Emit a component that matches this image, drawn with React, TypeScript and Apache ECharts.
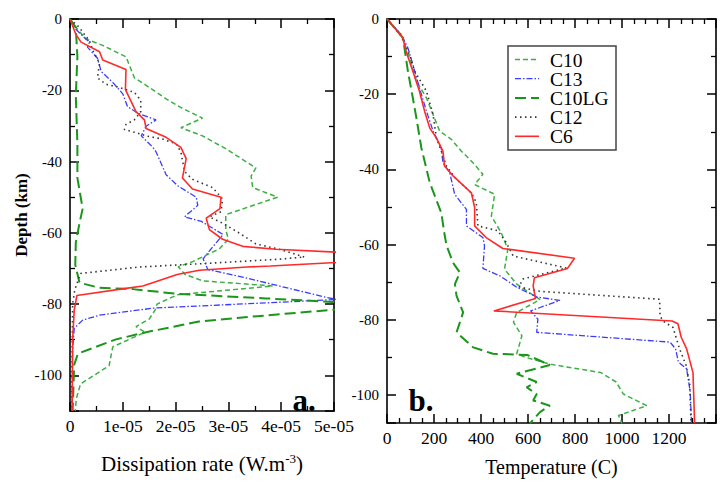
import React, { useEffect, useRef } from 'react';
import * as echarts from 'echarts';

// ---------- data ----------
const seriesNames = ['C10', 'C13', 'C10LG', 'C12', 'C6'];

// panel a: [dissipation rate (W.m^-3), depth (km)]
const dissC10: [number, number][] = [
  [0, 0], [0.15e-5, -3], [0.3e-5, -5.6], [0.62e-5, -7.4], [1.06e-5, -10.6], [1.22e-5, -16.5], [1.41e-5, -18.3],
  [1.82e-5, -22.4], [2.13e-5, -25.1], [2.51e-5, -27.8], [2.1e-5, -30.5], [2.51e-5, -32.8], [2.95e-5, -36.4],
  [3.52e-5, -41.8], [3.43e-5, -44.1], [3.46e-5, -47.3], [3.93e-5, -50], [2.95e-5, -54.9], [2.95e-5, -59.1],
  [3.0e-5, -61.8], [2.83e-5, -64.5], [2.32e-5, -68.1], [2.05e-5, -69.5], [2.18e-5, -71.7], [2.52e-5, -73.5],
  [3.84e-5, -74.9], [2.03e-5, -77.4], [1.65e-5, -80], [1.61e-5, -81.7], [1.5e-5, -84.2], [1.25e-5, -86.3],
  [1.42e-5, -87.9], [0.81e-5, -92], [0.74e-5, -97.3], [0.2e-5, -102.4], [0.12e-5, -106.5], [0.1e-5, -110],
];
const dissC13: [number, number][] = [
  [0, 0], [0.08e-5, -2.4], [0.27e-5, -5.2], [0.37e-5, -6.5], [0.33e-5, -7.9], [0.52e-5, -11], [0.59e-5, -14.7],
  [0.81e-5, -17.8], [1.0e-5, -21], [1.09e-5, -24.6], [1.28e-5, -26.4], [1.63e-5, -28.3], [1.44e-5, -30.1],
  [1.35e-5, -32.8], [1.57e-5, -36], [1.63e-5, -37.3], [1.82e-5, -43.7], [2.04e-5, -46.8], [2.39e-5, -50],
  [2.42e-5, -52.3], [2.17e-5, -55.5], [2.49e-5, -56.8], [2.9e-5, -60.5], [2.7e-5, -64], [2.52e-5, -67.3],
  [2.61e-5, -70.3], [3.35e-5, -72.7], [4.79e-5, -77.9], [5.05e-5, -78.7], [3.8e-5, -79.6], [1.6e-5, -81.1],
  [0.56e-5, -83.1], [0.24e-5, -84.5], [0.08e-5, -86.8], [0.05e-5, -93], [0.04e-5, -110],
];
const dissC10LG: [number, number][] = [
  [0, 0], [0.11e-5, -2.4], [0.14e-5, -10.6], [0.11e-5, -21.5], [0.14e-5, -35], [0.14e-5, -44.6], [0.24e-5, -53.2],
  [0.18e-5, -57.3], [0.11e-5, -62.7], [0.1e-5, -69], [0.18e-5, -74], [0.55e-5, -75.4], [1.19e-5, -75.8],
  [2.01e-5, -77.1], [3.71e-5, -78.4], [4.98e-5, -79.4], [6.5e-5, -80.5], [4.98e-5, -81.6], [3.46e-5, -83.5],
  [2.44e-5, -84.9], [1.44e-5, -87.9], [0.87e-5, -89.9], [0.15e-5, -93.9], [0.08e-5, -97], [0.05e-5, -110],
];
const dissC12: [number, number][] = [
  [0, 0], [0.18e-5, -2.4], [0.27e-5, -4.3], [0.37e-5, -6.1], [0.43e-5, -8.8], [0.56e-5, -12.4], [0.52e-5, -16.5],
  [0.68e-5, -18.3], [0.93e-5, -19.2], [1.22e-5, -20.6], [1.34e-5, -22.8], [1.34e-5, -26], [1.22e-5, -28.3],
  [1.06e-5, -29.6], [1.03e-5, -31], [1.25e-5, -31.9], [1.44e-5, -32.8], [1.75e-5, -33.7], [2.01e-5, -35],
  [2.1e-5, -37.3], [2.17e-5, -42.8], [2.32e-5, -45], [2.7e-5, -47.3], [2.89e-5, -50.5], [2.86e-5, -54.1],
  [2.64e-5, -55.5], [2.89e-5, -57.3], [3.21e-5, -60.1], [3.52e-5, -63.1], [3.96e-5, -64.6], [4.44e-5, -66.8],
  [3.96e-5, -67.4], [2.45e-5, -68.7], [1.31e-5, -69.6], [0.2e-5, -71.4], [0.09e-5, -76], [0.05e-5, -80], [0.03e-5, -110],
];
const dissC6: [number, number][] = [
  [0, 0], [0.11e-5, -4.3], [0.21e-5, -6.5], [0.56e-5, -9.2], [0.62e-5, -11.5], [1.06e-5, -14.2], [1.05e-5, -19.8],
  [1.25e-5, -26], [1.41e-5, -28.3], [1.44e-5, -30.7], [1.82e-5, -33.2], [2.1e-5, -36], [2.2e-5, -39.2],
  [2.13e-5, -44.6], [2.32e-5, -47.7], [2.86e-5, -50], [2.84e-5, -53.2], [2.58e-5, -55.9], [2.64e-5, -59.1],
  [2.89e-5, -61.8], [3.27e-5, -63.8], [3.9e-5, -64.6], [7.0e-5, -66.8], [3.8e-5, -69.3], [3.35e-5, -69.6],
  [2.45e-5, -70.5], [2.03e-5, -71.7], [1.38e-5, -74.9], [1.06e-5, -75.6], [0.13e-5, -77.6], [0.08e-5, -81.7],
  [0.05e-5, -90], [0.04e-5, -110],
];

// panel b: [temperature (C), depth (km)]
const tempC10: [number, number][] = [
  [0, 0], [61, -4.2], [96, -10.4], [125, -16.5], [168, -21], [224, -29.8], [274, -32], [316, -35.1], [366, -38.2],
  [408, -41.3], [373, -44], [458, -46.6], [444, -52.4], [486, -56.8], [514, -61.2], [500, -66.5], [552, -70.5],
  [651, -74.6], [552, -78], [538, -80.6], [574, -84.2], [552, -89], [587, -89.9], [697, -91.8], [910, -94],
  [975, -96.5], [1006, -99.7], [1105, -102.8], [985, -105.4], [1000, -107.5],
];
const tempC13: [number, number][] = [
  [0, 0], [61, -4.2], [89, -7.7], [110, -12.1], [138, -18.3], [168, -24.5], [196, -29.8], [231, -34.4], [238, -38.2],
  [267, -40.9], [288, -46.6], [338, -50.6], [338, -55], [408, -58.1], [415, -60.3], [408, -66.3], [481, -68.3],
  [552, -71.3], [638, -73.9], [736, -74.8], [611, -77.6], [642, -79.8], [637, -83.3], [1205, -85.9], [1228, -87.7],
  [1240, -91.2], [1275, -93], [1290, -99], [1296, -107.5],
];
const tempC10LG: [number, number][] = [
  [0, 0], [68, -5], [89, -13.9], [110, -21], [125, -26.3], [146, -34.2], [182, -43.5], [231, -51.5], [246, -57.7],
  [254, -60.3], [281, -64.8], [310, -67.4], [289, -70.5], [296, -73.6], [324, -78], [296, -83.3], [367, -87.3],
  [451, -89], [596, -89.3], [693, -92], [552, -94.3], [637, -96.5], [594, -97.9], [637, -99.7], [622, -101.4],
  [693, -102.8], [651, -104.5], [608, -107.5],
];
const tempC12: [number, number][] = [
  [0, 0], [61, -4.6], [96, -9.5], [118, -13.9], [168, -19.2], [196, -25.4], [210, -31.6], [231, -35.1], [253, -39.1],
  [295, -42.6], [359, -46.2], [380, -48.8], [387, -55], [472, -56.3], [507, -59.4], [537, -63], [763, -66.2],
  [579, -69.1], [561, -71.2], [650, -72.4], [1160, -74.5], [1162, -79], [1177, -80.4], [1217, -82], [1245, -87.7],
  [1273, -92.1], [1288, -97], [1294, -107.5],
];
const tempC6: [number, number][] = [
  [0, 0], [67, -5], [81, -8.6], [110, -13.9], [138, -19.2], [160, -24.5], [182, -29], [210, -31.6], [238, -35.1],
  [245, -39.1], [281, -41.7], [359, -46.2], [373, -50.1], [373, -55], [422, -58.1], [493, -61], [798, -63.6],
  [768, -66.3], [627, -68.8], [622, -71], [632, -74.3], [455, -77.6], [1213, -80.3], [1238, -81], [1252, -84.6],
  [1275, -87.7], [1302, -94], [1309, -107.5],
];

const dissTickLabels = ['0', '1e-05', '2e-05', '3e-05', '4e-05', '5e-05'];

// ---------- styles ----------
const FONT = "'Liberation Serif', 'Times New Roman', serif";
const colors = ['#3cb043', '#3b3bff', '#1a961a', '#333333', '#ff2a2a'];
const dashes: (number[] | 'solid')[] = [[5, 3], [6, 2, 1.5, 2], [11, 5], [1.5, 3.5], 'solid'];
const widths = [1.5, 1.3, 2, 1.6, 1.6];

const axisLine = { show: true, onZero: false, lineStyle: { color: '#000', width: 1.6 } };
const tick = { show: true, inside: true, length: 9, lineStyle: { color: '#000', width: 1.5 } };

function mkX(grid: number, pos: 'top' | 'bottom', kind: 'diss' | 'temp') {
  const isDiss = kind === 'diss';
  const base: any = {
    gridIndex: grid,
    type: 'value',
    position: pos,
    min: 0,
    max: isDiss ? 5e-5 : 1400,
    interval: isDiss ? 1e-5 : 200,
    axisLine,
    axisTick: tick,
    minorTick: { show: true, splitNumber: isDiss ? 2 : 4, length: 5, lineStyle: { color: '#000', width: 1.3 } },
    splitLine: { show: false },
    minorSplitLine: { show: false },
    axisLabel: { show: false },
  };
  if (pos === 'bottom') {
    base.axisLabel = {
      show: true,
      color: '#000',
      fontFamily: FONT,
      fontSize: 17.5,
      margin: 6,
      showMaxLabel: isDiss,
      formatter: isDiss
        ? (v: number) => dissTickLabels[Math.round(v * 1e5)] ?? ''
        : (v: number) => String(v),
    };
    base.nameLocation = 'middle';
    if (isDiss) {
      base.name = '{a|Dissipation rate (W.m}{s|-3}{a|)}';
      base.nameGap = 41;
      base.nameTextStyle = {
        rich: {
          a: { fontFamily: FONT, fontSize: 21, color: '#000', verticalAlign: 'bottom', lineHeight: 22 },
          s: { fontFamily: FONT, fontSize: 13, color: '#000', verticalAlign: 'top', lineHeight: 22, padding: [0, 0, 12, 0] },
        },
      };
    } else {
      base.name = 'Temperature (C)';
      base.nameGap = 34;
      base.nameTextStyle = { fontFamily: FONT, fontSize: 20, color: '#000' };
    }
  }
  return base;
}

function mkY(grid: number, pos: 'left' | 'right', min: number) {
  const base: any = {
    gridIndex: grid,
    type: 'value',
    position: pos,
    min,
    max: 0,
    splitNumber: 5,
    axisLine,
    axisTick: tick,
    minorTick: { show: true, splitNumber: 2, length: 5, lineStyle: { color: '#000', width: 1.3 } },
    splitLine: { show: false },
    minorSplitLine: { show: false },
    axisLabel: { show: false },
  };
  if (pos === 'left') {
    base.axisLabel = {
      show: true,
      color: '#000',
      fontFamily: FONT,
      fontSize: 15,
      margin: 8,
      showMinLabel: false,
    };
    if (grid === 0) {
      base.name = 'Depth (km)';
      base.nameLocation = 'middle';
      base.nameGap = 40;
      base.nameTextStyle = { fontFamily: FONT, fontSize: 17, fontWeight: 'bold', color: '#000' };
    }
  }
  return base;
}

export default function App() {
  const ref = useRef<HTMLDivElement>(null);
  useEffect(() => {
    if (!ref.current) return;
    const chart = echarts.init(ref.current, undefined, { renderer: 'svg' });
    const dissData = [dissC10, dissC13, dissC10LG, dissC12, dissC6];
    const tempData = [tempC10, tempC13, tempC10LG, tempC12, tempC6];
    const series: any[] = [];
    seriesNames.forEach((n, i) => {
      const ls = { color: colors[i], width: widths[i], type: dashes[i] };
      series.push({
        name: n, type: 'line', xAxisIndex: 0, yAxisIndex: 0, data: dissData[i],
        showSymbol: false, symbol: 'none', clip: true, lineStyle: ls, z: 2 + i,
      });
      series.push({
        name: n, type: 'line', xAxisIndex: 2, yAxisIndex: 2, data: tempData[i],
        showSymbol: false, symbol: 'none', clip: true, lineStyle: ls, z: 2 + i,
      });
    });

    const legendChildren: any[] = [
      {
        type: 'rect',
        shape: { x: 508, y: 46, width: 108, height: 104 },
        style: { fill: '#fff', stroke: '#444', lineWidth: 1.5 },
      },
    ];
    seriesNames.forEach((n, i) => {
      const y = 59.5 + i * 19.2;
      legendChildren.push({
        type: 'line',
        shape: { x1: 515, y1: y, x2: 539, y2: y },
        style: {
          stroke: colors[i],
          lineWidth: widths[i],
          lineDash: dashes[i] === 'solid' ? null : dashes[i],
        },
      });
      legendChildren.push({
        type: 'text',
        x: 550,
        y: y + 0.5,
        style: { text: n, fontFamily: FONT, fontSize: 19.5, fill: '#000', verticalAlign: 'middle', align: 'left' },
      });
    });

    chart.setOption({
      animation: false,
      backgroundColor: '#fff',
      grid: [
        { left: 70, top: 19, width: 264, height: 405, containLabel: false },
        { left: 387, top: 19, width: 329, height: 405, containLabel: false },
      ],
      xAxis: [mkX(0, 'bottom', 'diss'), mkX(0, 'top', 'diss'), mkX(1, 'bottom', 'temp'), mkX(1, 'top', 'temp')],
      yAxis: [mkY(0, 'left', -110), mkY(0, 'right', -110), mkY(1, 'left', -107.4), mkY(1, 'right', -107.4)],
      series,
      graphic: [
        { type: 'group', z: 50, children: legendChildren },
        {
          type: 'text', x: 304, y: 400, z: 50,
          style: { text: 'a.', fontFamily: FONT, fontSize: 31, fontWeight: 'bold', fill: '#000', align: 'center', verticalAlign: 'middle' },
        },
        {
          type: 'text', x: 421, y: 400, z: 50,
          style: { text: 'b.', fontFamily: FONT, fontSize: 31, fontWeight: 'bold', fill: '#000', align: 'center', verticalAlign: 'middle' },
        },
      ],
    });
    return () => chart.dispose();
  }, []);
  return <div ref={ref} style={{ position: 'absolute', left: 0, top: 0, width: 720, height: 482 }} />;
}
